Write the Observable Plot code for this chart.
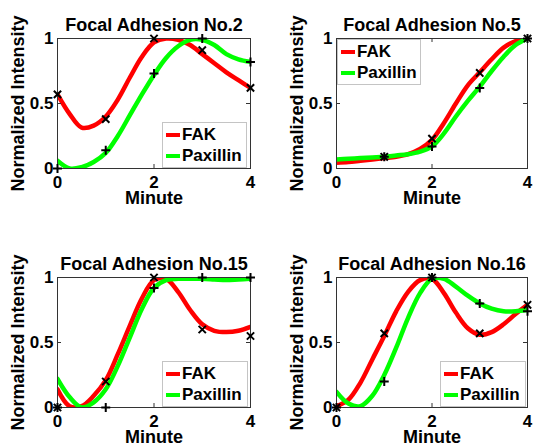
<!DOCTYPE html>
<html><head><meta charset="utf-8">
<script src="https://cdn.jsdelivr.net/npm/d3@7"></script>
<script src="https://cdn.jsdelivr.net/npm/@observablehq/plot@0.6"></script>
<style>
body{margin:0;background:#fff;}
#chart{position:relative;width:534px;height:446px;font-family:"Liberation Sans",Arial,sans-serif;font-weight:bold;overflow:hidden;}
.panel{position:absolute;}
.panel svg{overflow:visible;}
.legend{position:absolute;background:#fff;border:1px solid #c4c4c4;box-sizing:border-box;}
.row{position:absolute;left:0;display:flex;align-items:center;height:20px;font-size:17px;line-height:20px;color:#000;white-space:nowrap;}
.sw{display:inline-block;width:14px;height:4px;margin-left:3px;margin-right:2px;}
</style></head><body><div id="chart"></div>
<script>
// ---- data ----
const minutes = [0, 1, 2, 3, 4];
const curveMinutes = [0, 0.25, 0.5, 0.75, 1, 1.25, 1.5, 1.75, 2, 2.25, 2.5, 2.75, 3, 3.25, 3.5, 3.75, 4];
const xTicks = [0, 2, 4];
const yTicks = [0, 0.5, 1];
const seriesNames = ["FAK", "Paxillin"];
const seriesColors = ["#ff0000", "#00ff00"];
const titles = ["Focal Adhesion No.2", "Focal Adhesion No.5", "Focal Adhesion No.15", "Focal Adhesion No.16"];
const xLabel = "Minute";
const yLabel = "Normalized Intensity";

// measured points (null = no marker)
const fak2Points = [0.57, 0.38, 1.0, 0.91, 0.62];
const pax2Points = [0.0, 0.14, 0.73, 1.0, 0.82];
const fak5Points = [null, 0.09, 0.23, 0.735, 1.0];
const pax5Points = [null, 0.09, 0.17, 0.62, 1.0];
const fak15Points = [0.0, 0.2, 1.0, 0.6, 0.55];
const pax15Points = [0.0, 0.0, 0.92, 1.0, 1.0];
const fak16Points = [0.0, 0.57, 1.0, 0.57, 0.79];
const pax16Points = [0.0, 0.2, 1.0, 0.8, 0.74];

// fitted curves at curveMinutes
const fak2Curve = [0.57, 0.42, 0.315, 0.33, 0.40, 0.53, 0.70, 0.86, 0.97, 1.0, 0.99, 0.95, 0.88, 0.81, 0.74, 0.68, 0.62];
const pax2Curve = [0.06, 0.0, 0.01, 0.05, 0.12, 0.25, 0.41, 0.57, 0.72, 0.85, 0.94, 0.99, 0.99, 0.95, 0.88, 0.84, 0.82];
const fak5Curve = [0.045, 0.05, 0.06, 0.07, 0.08, 0.09, 0.11, 0.15, 0.22, 0.35, 0.50, 0.64, 0.74, 0.84, 0.93, 0.98, 1.0];
const pax5Curve = [0.07, 0.075, 0.08, 0.085, 0.09, 0.10, 0.11, 0.13, 0.17, 0.27, 0.40, 0.52, 0.63, 0.75, 0.86, 0.95, 1.0];
const fak15Curve = [0.14, 0.01, 0.01, 0.09, 0.21, 0.41, 0.63, 0.84, 0.98, 0.99, 0.89, 0.75, 0.64, 0.59, 0.58, 0.59, 0.62];
const pax15Curve = [0.22, 0.08, 0.0, 0.04, 0.14, 0.32, 0.54, 0.76, 0.92, 0.98, 0.99, 0.99, 0.99, 0.985, 0.98, 0.985, 0.99];
const fak16Curve = [0.01, 0.06, 0.19, 0.37, 0.55, 0.74, 0.89, 0.98, 0.99, 0.88, 0.73, 0.61, 0.56, 0.58, 0.64, 0.72, 0.79];
const pax16Curve = [0.12, 0.03, 0.01, 0.09, 0.25, 0.46, 0.69, 0.88, 0.99, 0.99, 0.93, 0.86, 0.80, 0.76, 0.74, 0.74, 0.75];

// ---- layout ----
const panels = [
  {title: titles[0], fakP: fak2Points, paxP: pax2Points, fakC: fak2Curve, paxC: pax2Curve,
   left: 0, top: 0, ml: 57, mr: 17, mt: 38, mb: 55, legend: {left: 162, top: 122, w: 85, h: 46}},
  {title: titles[1], fakP: fak5Points, paxP: pax5Points, fakC: fak5Curve, paxC: pax5Curve,
   left: 267, top: 0, ml: 69, mr: 7, mt: 38, mb: 55, legend: {left: 70, top: 39, w: 84, h: 46}},
  {title: titles[2], fakP: fak15Points, paxP: pax15Points, fakC: fak15Curve, paxC: pax15Curve,
   left: 0, top: 223, ml: 57, mr: 17, mt: 54, mb: 39, legend: {left: 162, top: 138, w: 86, h: 46}},
  {title: titles[3], fakP: fak16Points, paxP: pax16Points, fakC: fak16Curve, paxC: pax16Curve,
   left: 267, top: 223, ml: 69, mr: 7, mt: 54, mb: 39, legend: {left: 173, top: 138, w: 86, h: 46}}
];

const W = 267, H = 223;
const chart = document.getElementById("chart");

for (const p of panels) {
  const pw = W - p.ml - p.mr, ph = H - p.mt - p.mb;
  const toPts = arr => minutes.map((m, i) => ({x: m, y: arr[i]})).filter(d => d.y != null);
  const toCurve = arr => curveMinutes.map((m, i) => ({x: m, y: arr[i]}));
  const svg = Plot.plot({
    width: W, height: H,
    marginLeft: p.ml, marginRight: p.mr, marginTop: p.mt, marginBottom: p.mb,
    x: {domain: [0, 4]}, y: {domain: [0, 1]},
    style: {fontFamily: '"Liberation Sans", Arial, sans-serif', fontWeight: "bold", fontSize: "17px", color: "#000", background: "transparent", overflow: "visible"},
    marks: [
      Plot.line(toCurve(p.fakC), {x: "x", y: "y", stroke: seriesColors[0], strokeWidth: 4.5, curve: "catmull-rom", clip: true}),
      Plot.line(toCurve(p.paxC), {x: "x", y: "y", stroke: seriesColors[1], strokeWidth: 4.5, curve: "catmull-rom", clip: true}),
      Plot.frame({stroke: "#333", strokeWidth: 1}),
      Plot.tickX(xTicks, {x: d => d, insetTop: ph - 4, stroke: "#333"}),
      Plot.tickX(xTicks, {x: d => d, insetBottom: ph - 4, stroke: "#333"}),
      Plot.tickY(yTicks, {y: d => d, insetLeft: pw - 4, stroke: "#333"}),
      Plot.tickY(yTicks, {y: d => d, insetRight: pw - 4, stroke: "#333"}),
      Plot.axisX(xTicks, {tickSize: 0, tickPadding: 7, fontSize: 17, fontWeight: "bold", label: null, tickFormat: d => String(d)}),
      Plot.axisY(yTicks, {tickSize: 0, tickPadding: 4, fontSize: 17, fontWeight: "bold", label: null, tickFormat: d => String(d)}),
      Plot.dot(toPts(p.fakP), {x: "x", y: "y", symbol: "times", r: 3.4, stroke: "#000", strokeWidth: 2}),
      Plot.dot(toPts(p.paxP), {x: "x", y: "y", symbol: "plus", r: 3.0, stroke: "#000", strokeWidth: 2}),
      Plot.text([p.title], {text: d => d, frameAnchor: "top", textAnchor: "middle", dy: -20, fontSize: 18, fontWeight: "bold", fill: "#000"}),
      Plot.text([xLabel], {text: d => d, frameAnchor: "bottom", textAnchor: "middle", lineAnchor: "top", dy: 22.5, fontSize: 18, fontWeight: "bold", fill: "#000"}),
      Plot.text([yLabel], {text: d => d, frameAnchor: "left", textAnchor: "middle", rotate: -90, dx: -39, fontSize: 18, fontWeight: "bold", fill: "#000"})
    ]
  });
  const div = document.createElement("div");
  div.className = "panel";
  div.style.left = p.left + "px";
  div.style.top = p.top + "px";
  div.style.width = W + "px";
  div.style.height = H + "px";
  div.appendChild(svg);

  const lg = document.createElement("div");
  lg.className = "legend";
  lg.style.left = p.legend.left + "px";
  lg.style.top = p.legend.top + "px";
  lg.style.width = p.legend.w + "px";
  lg.style.height = p.legend.h + "px";
  seriesNames.forEach((name, i) => {
    const row = document.createElement("div");
    row.className = "row";
    row.style.top = (i === 0 ? 1.5 : 23) + "px";
    const sw = document.createElement("span");
    sw.className = "sw";
    sw.style.background = seriesColors[i];
    const tx = document.createElement("span");
    tx.textContent = name;
    row.appendChild(sw);
    row.appendChild(tx);
    lg.appendChild(row);
  });
  div.appendChild(lg);
  chart.appendChild(div);
}
</script></body></html>
